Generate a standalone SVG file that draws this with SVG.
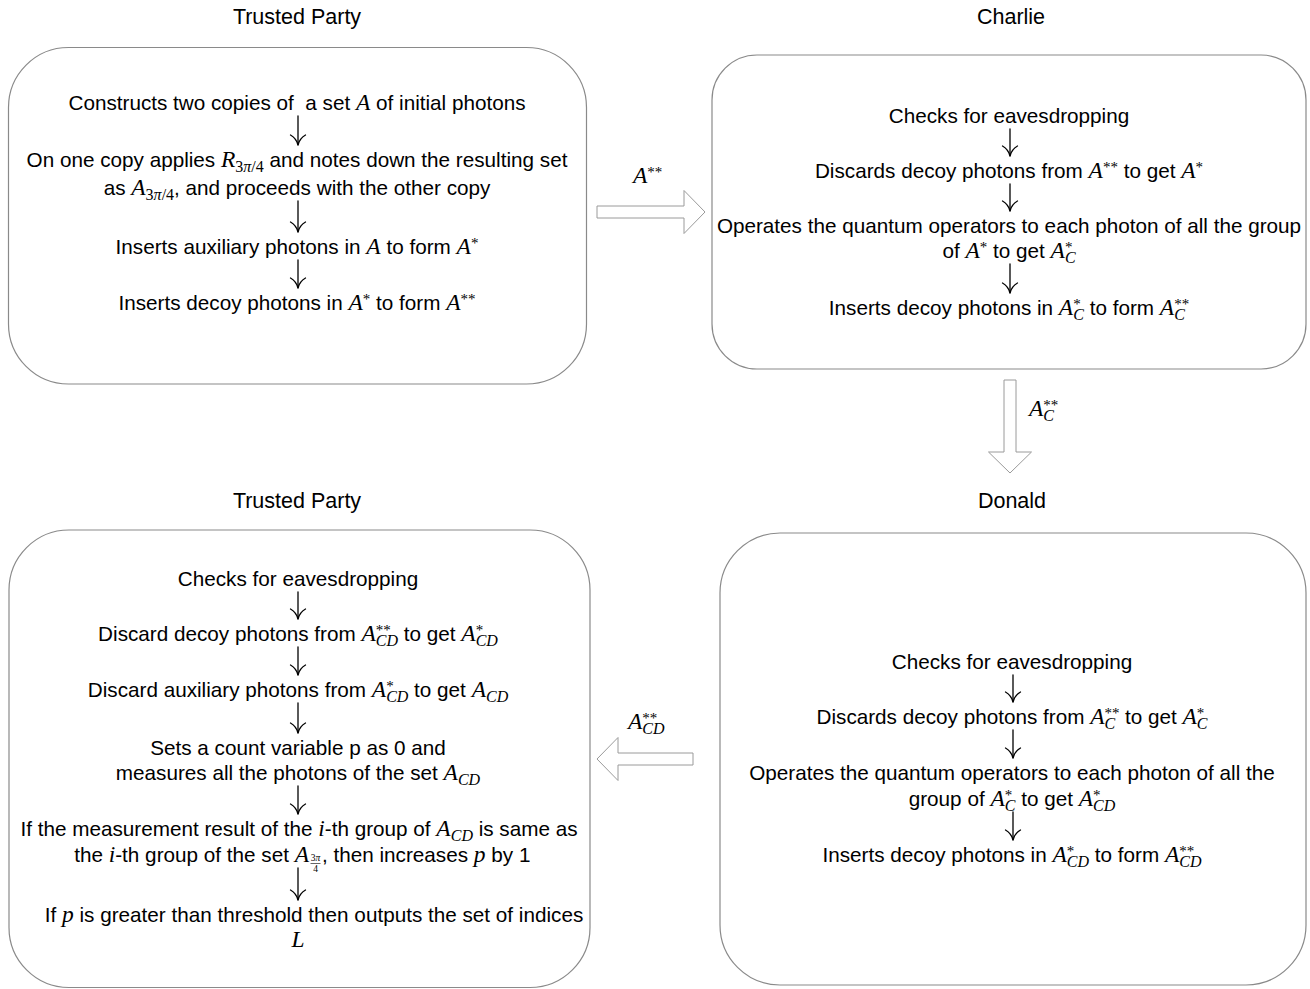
<svg xmlns="http://www.w3.org/2000/svg" width="1310" height="989" viewBox="0 0 1310 989">
  <style>
    .box { fill: #fff; stroke: #8a8a8a; stroke-width: 1.2; }
    .title { font-family: "Liberation Sans", Arial, sans-serif; font-size: 21.5px; fill: #000; text-anchor: middle; }
    .tx { font-family: "Liberation Sans", Arial, sans-serif; font-size: 20.7px; fill: #000; text-anchor: middle; }
    .tl { font-family: "Liberation Sans", Arial, sans-serif; font-size: 20.7px; fill: #000; }
    .m { font-family: "Liberation Serif", "Times New Roman", serif; font-style: italic; font-size: 23.5px; }
    .sp { font-family: "Liberation Serif", "Times New Roman", serif; font-style: normal; font-size: 15px; }
    .sb { font-family: "Liberation Serif", "Times New Roman", serif; font-style: italic; font-size: 16px; }
    .r { font-style: normal; }
    .fr { font-family: "Liberation Serif", "Times New Roman", serif; font-size: 9.5px; text-anchor: middle; fill: #000; }
    .step { fill: none; stroke: #000; stroke-width: 1.3; stroke-linecap: round; }
    .flow { fill: #fff; stroke: #9a9a9a; stroke-width: 1; stroke-linejoin: miter; }
  </style>
  <defs>
    <!-- step arrow head: curved open head with its tip at (0,0) -->
    <path id="head" d="M -7.5 -10 C -4 -8 -1 -4 0 0 C 1 -4 4 -8 7.5 -10"/>
  </defs>

  <!-- Trusted Party (preparation) -->
  <g id="trusted-party-top">
    <text class="title" x="297" y="24">Trusted Party</text>
    <rect class="box" x="8.5" y="47.5" width="578" height="336.5" rx="60" ry="60"/>
    <text class="tx" x="297" y="110">Constructs two copies of&#160; a set <tspan class="m">A</tspan> of initial photons</text>
    <g class="step"><path d="M 298 116 V 145"/><use href="#head" x="298" y="145"/></g>
    <text class="tx" x="297" y="167">On one copy applies <tspan class="m">R</tspan><tspan class="sb r" dy="5">3<tspan class="sb">π</tspan>/4</tspan><tspan dy="-5"> and notes down the resulting set</tspan></text>
    <text class="tx" x="297" y="195">as <tspan class="m">A</tspan><tspan class="sb r" dy="5">3<tspan class="sb">π</tspan>/4</tspan><tspan dy="-5">, and proceeds with the other copy</tspan></text>
    <g class="step"><path d="M 298 201 V 232"/><use href="#head" x="298" y="232"/></g>
    <text class="tx" x="297" y="254">Inserts auxiliary photons in <tspan class="m">A</tspan> to form <tspan class="m">A</tspan><tspan class="sp" dy="-6">*</tspan></text>
    <g class="step"><path d="M 298 260 V 288"/><use href="#head" x="298" y="288"/></g>
    <text class="tx" x="297" y="310">Inserts decoy photons in <tspan class="m">A</tspan><tspan class="sp" dy="-6">*</tspan><tspan dy="6"> to form </tspan><tspan class="m">A</tspan><tspan class="sp" dy="-6">**</tspan></text>
  </g>

  <!-- Charlie -->
  <g id="charlie">
    <text class="title" x="1011" y="24">Charlie</text>
    <rect class="box" x="712" y="55" width="594" height="314" rx="45" ry="45"/>
    <text class="tx" x="1009" y="123">Checks for eavesdropping</text>
    <g class="step"><path d="M 1010 129 V 156"/><use href="#head" x="1010" y="156"/></g>
    <text class="tx" x="1009" y="178">Discards decoy photons from <tspan class="m">A</tspan><tspan class="sp" dy="-6">**</tspan><tspan dy="6"> to get </tspan><tspan class="m">A</tspan><tspan class="sp" dy="-6">*</tspan></text>
    <g class="step"><path d="M 1010 184 V 211"/><use href="#head" x="1010" y="211"/></g>
    <text class="tx" x="1009" y="233">Operates the quantum operators to each photon of all the group</text>
    <text class="tx" x="1009" y="258">of <tspan class="m">A</tspan><tspan class="sp" dy="-6">*</tspan><tspan dy="6"> to get </tspan><tspan class="m">A</tspan><tspan class="sp" dy="-6">*</tspan><tspan class="sb" dx="-7.5" dy="11">C</tspan></text>
    <g class="step"><path d="M 1010 264 V 293"/><use href="#head" x="1010" y="293"/></g>
    <text class="tx" x="1009" y="315">Inserts decoy photons in <tspan class="m">A</tspan><tspan class="sp" dy="-6">*</tspan><tspan class="sb" dx="-7.5" dy="11">C</tspan><tspan dy="-5"> to form </tspan><tspan class="m">A</tspan><tspan class="sp" dy="-6">**</tspan><tspan class="sb" dx="-15" dy="11">C</tspan></text>
  </g>

  <!-- Donald -->
  <g id="donald">
    <text class="title" x="1012" y="508">Donald</text>
    <rect class="box" x="720" y="533" width="586" height="452" rx="60" ry="60"/>
    <text class="tx" x="1012" y="669">Checks for eavesdropping</text>
    <g class="step"><path d="M 1013 675 V 702"/><use href="#head" x="1013" y="702"/></g>
    <text class="tx" x="1012" y="724">Discards decoy photons from <tspan class="m">A</tspan><tspan class="sp" dy="-6">**</tspan><tspan class="sb" dx="-15" dy="11">C</tspan><tspan dx="4" dy="-5"> to get </tspan><tspan class="m">A</tspan><tspan class="sp" dy="-6">*</tspan><tspan class="sb" dx="-7.5" dy="11">C</tspan></text>
    <g class="step"><path d="M 1013 730 V 758"/><use href="#head" x="1013" y="758"/></g>
    <text class="tx" x="1012" y="780">Operates the quantum operators to each photon of all the</text>
    <text class="tx" x="1012" y="806">group of <tspan class="m">A</tspan><tspan class="sp" dy="-6">*</tspan><tspan class="sb" dx="-7.5" dy="11">C</tspan><tspan dy="-5"> to get </tspan><tspan class="m">A</tspan><tspan class="sp" dy="-6">*</tspan><tspan class="sb" dx="-7.5" dy="11">CD</tspan></text>
    <g class="step"><path d="M 1013 812 V 840"/><use href="#head" x="1013" y="840"/></g>
    <text class="tx" x="1012" y="862">Inserts decoy photons in <tspan class="m">A</tspan><tspan class="sp" dy="-6">*</tspan><tspan class="sb" dx="-7.5" dy="11">CD</tspan><tspan dy="-5"> to form </tspan><tspan class="m">A</tspan><tspan class="sp" dy="-6">**</tspan><tspan class="sb" dx="-15" dy="11">CD</tspan></text>
  </g>

  <!-- Trusted Party (verification) -->
  <g id="trusted-party-bottom">
    <text class="title" x="297" y="508">Trusted Party</text>
    <rect class="box" x="9" y="530" width="581" height="457.5" rx="60" ry="60"/>
    <text class="tx" x="298" y="586">Checks for eavesdropping</text>
    <g class="step"><path d="M 298 592 V 619"/><use href="#head" x="298" y="619"/></g>
    <text class="tx" x="298" y="641">Discard decoy photons from <tspan class="m">A</tspan><tspan class="sp" dy="-6">**</tspan><tspan class="sb" dx="-15" dy="11">CD</tspan><tspan dy="-5"> to get </tspan><tspan class="m">A</tspan><tspan class="sp" dy="-6">*</tspan><tspan class="sb" dx="-7.5" dy="11">CD</tspan></text>
    <g class="step"><path d="M 298 647 V 675"/><use href="#head" x="298" y="675"/></g>
    <text class="tx" x="298" y="697">Discard auxiliary photons from <tspan class="m">A</tspan><tspan class="sp" dy="-6">*</tspan><tspan class="sb" dx="-7.5" dy="11">CD</tspan><tspan dy="-5"> to get </tspan><tspan class="m">A</tspan><tspan class="sb" dy="5">CD</tspan></text>
    <g class="step"><path d="M 298 703 V 733"/><use href="#head" x="298" y="733"/></g>
    <text class="tx" x="298" y="755">Sets a count variable p as 0 and</text>
    <text class="tx" x="298" y="780">measures all the photons of the set <tspan class="m">A</tspan><tspan class="sb" dy="5">CD</tspan></text>
    <g class="step"><path d="M 298 786 V 814"/><use href="#head" x="298" y="814"/></g>
    <text class="tx" x="299" y="836">If the measurement result of the <tspan class="m">i</tspan>-th group of <tspan class="m">A</tspan><tspan class="sb" dy="5">CD</tspan><tspan dy="-5"> is same as</tspan></text>
    <text class="tl" x="309" y="862" text-anchor="end">the <tspan class="m">i</tspan>-th group of the set <tspan class="m">A</tspan></text>
    <text class="fr" x="315.5" y="861">3<tspan font-style="italic">π</tspan></text>
    <path d="M 310.5 863.5 H 320.5" stroke="#000" stroke-width="0.6"/>
    <text class="fr" x="315.5" y="871.5">4</text>
    <text class="tl" x="322" y="862">, then increases <tspan class="m">p</tspan> by 1</text>
    <g class="step"><path d="M 298 868 V 900"/><use href="#head" x="298" y="900"/></g>
    <text class="tx" x="314" y="922">If <tspan class="m">p</tspan> is greater than threshold then outputs the set of indices</text>
    <text class="tx" x="298" y="947"><tspan class="m">L</tspan></text>
  </g>

  <!-- transfers between parties -->
  <g id="connectors">
    <polygon class="flow" points="597,206 684,206 684,190.5 705,212 684,233.5 684,218 597,218"/>
    <text class="tl" x="633" y="183"><tspan class="m">A</tspan><tspan class="sp" dy="-6">**</tspan></text>

    <polygon class="flow" points="1004,380 1016,380 1016,452 1031.5,452 1010,473 988.5,452 1004,452"/>
    <text class="tl" x="1029" y="416"><tspan class="m">A</tspan><tspan class="sp" dy="-6">**</tspan><tspan class="sb" dx="-15" dy="11">C</tspan></text>

    <polygon class="flow" points="693,753 618,753 618,737.5 597,759 618,780.5 618,765 693,765"/>
    <text class="tl" x="628" y="729"><tspan class="m">A</tspan><tspan class="sp" dy="-6">**</tspan><tspan class="sb" dx="-15" dy="11">CD</tspan></text>
  </g>
</svg>
